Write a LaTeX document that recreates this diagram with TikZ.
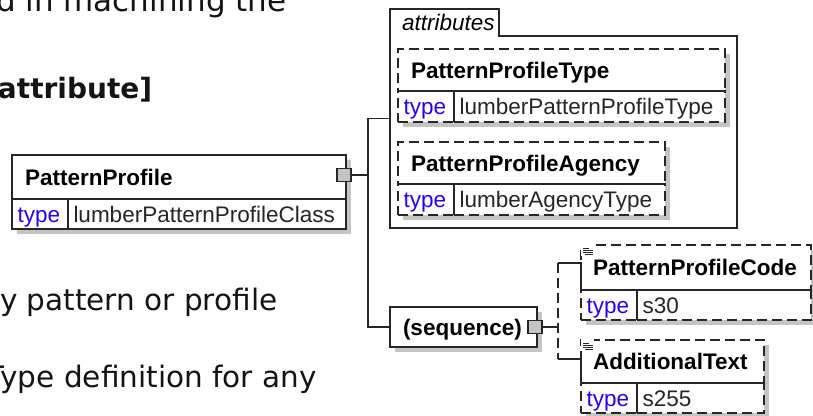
\documentclass[tikz,border=0pt]{standalone}
\usepackage{fontspec}
\setmainfont{Liberation Sans}
\newfontfamily\docfont{DejaVu Sans}
\usetikzlibrary{positioning}

\definecolor{typeblue}{RGB}{36,0,255}
\definecolor{shadowgray}{RGB}{196,196,196}

% small document mark in the corner of an element box
\newcommand\docmark[1]{%
  \fill[white] ([shift={(0,-1)}]#1.north west) rectangle ++(13,12);
  \draw[line width=0.9pt] ([shift={(2,3)}]#1.north west) -- ++(6,0)
    ([shift={(2,5)}]#1.north west) -- ++(10,0)
    ([shift={(2,7)}]#1.north west) -- ++(10,0)
    ([shift={(4,9)}]#1.north west) -- ++(8,0);}

\begin{document}
\begin{tikzpicture}[x=1pt, y=-1pt, line width=1.3pt, draw=black!85,
    every node/.style={inner sep=0pt, outer sep=0pt},
    shadowed/.style={preaction={fill=shadowgray, transform canvas={xshift=5pt, yshift=-5pt}}},
    elem/.style={draw, fill=white, shadowed, anchor=north west, align=left,
        inner xsep=13pt, text height=16pt, text depth=0pt,
        font=\fontsize{22.5}{27}\selectfont\bfseries},
    opt/.style={dash pattern=on 10pt off 5pt},
    typecell/.style={draw, fill=white, shadowed, anchor=north west, align=left,
        inner xsep=5.5pt, text height=16pt, text depth=0pt, minimum height=30pt,
        font=\fontsize{22.5}{27}\selectfont, text=typeblue, text width=45pt},
    valcell/.style={typecell, text=black!85},
    connsq/.style={draw, fill=shadowgray, minimum width=14pt, minimum height=13pt},
    doctext/.style={anchor=base west, text=black!92,
        font=\docfont\fontsize{29.5}{34}\selectfont}]
  \useasboundingbox (0,0) rectangle (813,415);
  \fill[white] (0,0) rectangle (813,415);

  % text of the page beside the diagram
  \node[doctext, font=\docfont\fontsize{31}{36}\selectfont] (l1) at (-4,12) {d in machining the};
  \node[doctext, font=\docfont\bfseries\fontsize{28}{34}\selectfont] (l2) at (-2,98) {attribute]};
  \node[doctext] (l3) at (0,310) {y pattern or profile};
  \node[doctext] (l4) at (-13,387) {Type definition for any};

  % root element
  \node[elem, text width=308pt, minimum height=44pt] (pp) at (12,155) {PatternProfile};
  \node[typecell] (pptk) at (pp.south west) {type};
  \node[valcell, text width=267pt] (ppv) at (pptk.north east) {lumberPatternProfileClass};
  \node[connsq] (ppsq) at ([xshift=-2pt, yshift=2pt]pp.east) {};

  % attributes group
  \node[anchor=north west, minimum width=347pt, minimum height=219pt] (attrs) at (390,9) {};
  \node[anchor=north west, minimum width=109pt, minimum height=27pt] (attab) at (390,9) {};
  \draw (attrs.south west) -- (attrs.north west) -- (attab.north east) -- (attab.south east)
    -- (attab.south east -| attrs.east) -- (attrs.south east) -- cycle;
  \node[right=12pt of attab.west, text height=16pt, text depth=0pt,
    font=\fontsize{22.5}{27}\selectfont\itshape] (atlab) {attributes};

  \node[elem, opt, text width=301pt, minimum height=42pt] (pth) at (398,49) {PatternProfileType};
  \node[typecell, opt, minimum height=31pt] (ptt) at (pth.south west) {type};
  \node[valcell, opt, text width=260pt, minimum height=31pt] (ptv) at (ptt.north east) {lumberPatternProfileType};
  \draw (pth.south west) -- (pth.south east);
  \draw (ptt.north east) -- (ptt.south east);

  \node[elem, opt, text width=241pt, minimum height=42pt] (pah) at (398,142) {PatternProfileAgency};
  \node[typecell, opt, minimum height=31pt] (pat) at (pah.south west) {type};
  \node[valcell, opt, text width=200pt, minimum height=31pt] (pav) at (pat.north east) {lumberAgencyType};
  \draw (pah.south west) -- (pah.south east);
  \draw (pat.north east) -- (pat.south east);

  % sequence and its children
  \node[elem, text width=121pt, minimum height=40pt] (seq) at (390,307) {(sequence)};
  \node[connsq] (seqsq) at ([xshift=-2pt]seq.east) {};

  \node[elem, opt, inner xsep=12pt, text width=206pt, minimum height=45pt] (pch) at (581,245) {PatternProfileCode};
  \node[typecell, opt] (pct) at (pch.south west) {type};
  \node[valcell, opt, text width=163pt] (pcv) at (pct.north east) {s30};
  \draw (pct.north east) -- (pct.south east);

  \node[elem, opt, inner xsep=12pt, text width=159pt, minimum height=43pt] (ath) at (581,340) {AdditionalText};
  \node[typecell, opt] (att) at (ath.south west) {type};
  \node[valcell, opt, text width=116pt] (atv) at (att.north east) {s255};
  \draw (att.north east) -- (att.south east);

  \docmark{pch}
  \docmark{ath}

  % connectors
  \coordinate (j1) at (368,175);
  \coordinate (j2) at (558,327);
  \coordinate (pcin) at ([yshift=-18pt]pch.north west);
  \coordinate (atin) at ([yshift=-19pt]ath.north west);
  \draw (ppsq) -- (j1);
  \draw (attrs.west) -| (j1) |- (seq.west);
  \draw (seqsq) -- (j2);
  \draw[opt] (pcin -| j2) -- (atin -| j2);
  \draw (pcin -| j2) -- (pcin) -- (pch.south west) -- (pch.south east);
  \draw (atin -| j2) -- (atin) -- (ath.south west) -- (ath.south east);
\end{tikzpicture}
\end{document}
